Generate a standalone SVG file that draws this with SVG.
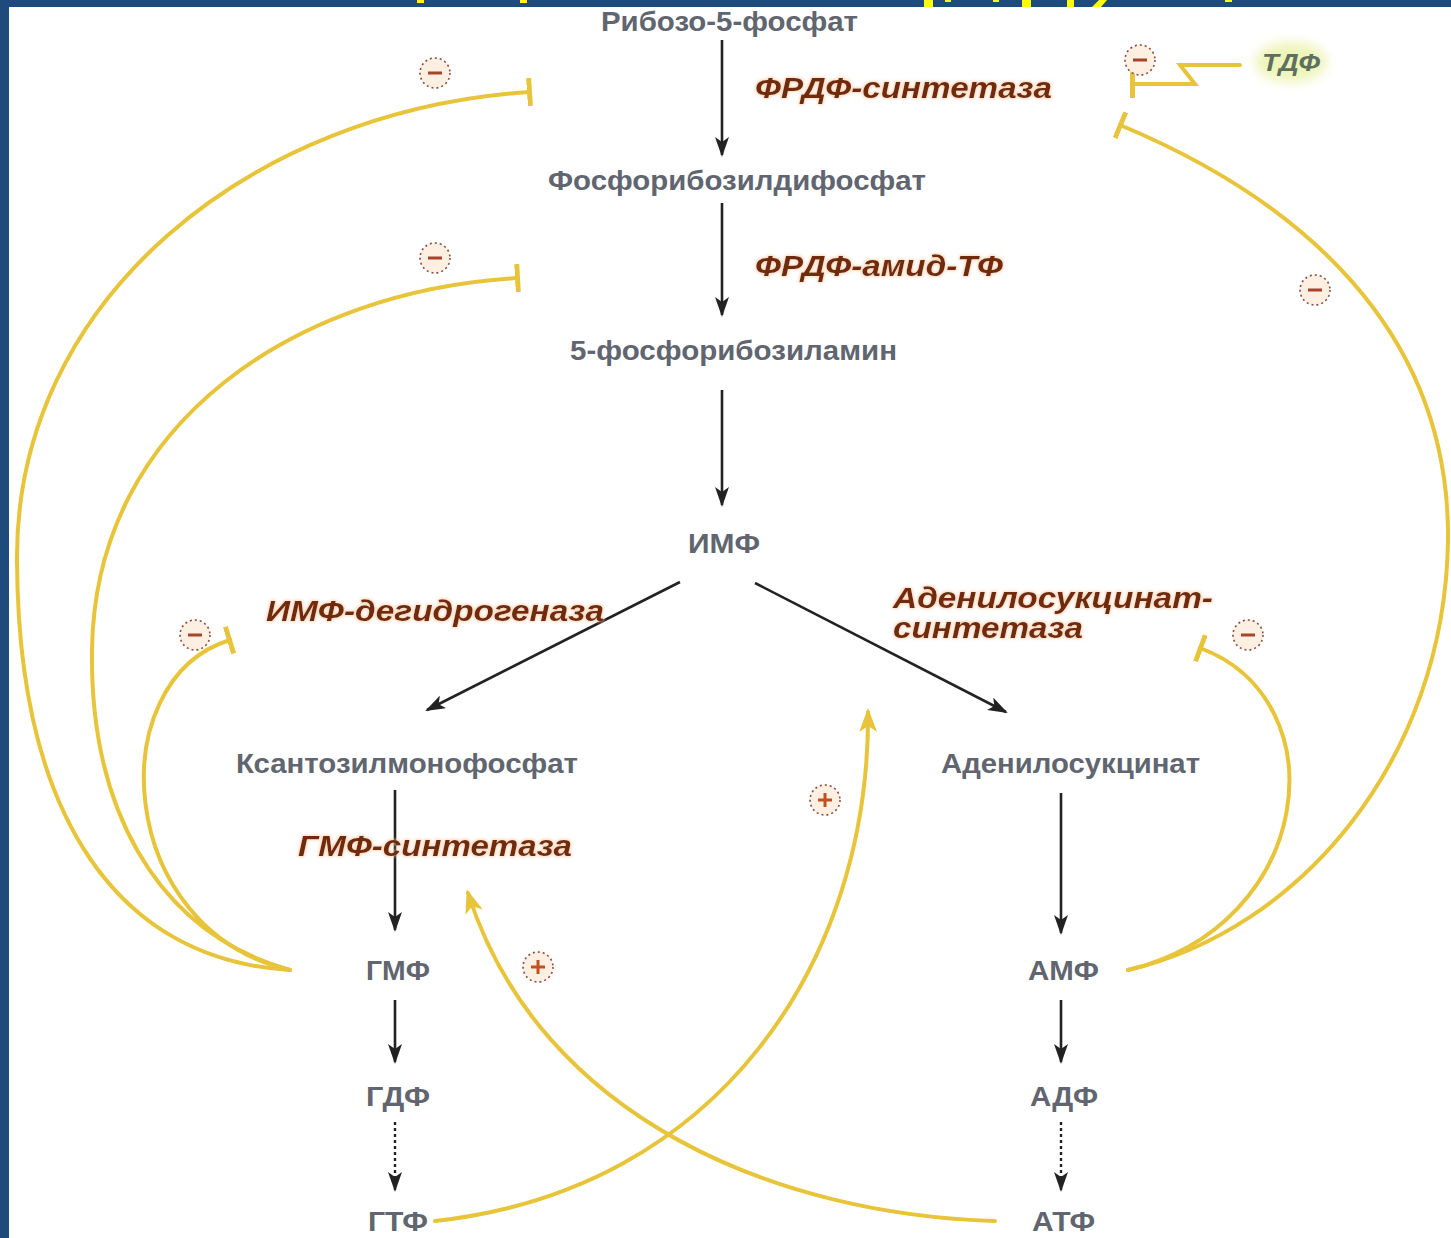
<svg xmlns="http://www.w3.org/2000/svg" xmlns:xlink="http://www.w3.org/1999/xlink" width="1451" height="1238" viewBox="0 0 1451 1238">
<defs>
<style>
.node{font-family:"Liberation Sans","DejaVu Sans",sans-serif;font-weight:bold;font-size:28px;fill:#60656f}
.enz{font-family:"Liberation Sans","DejaVu Sans",sans-serif;font-weight:bold;font-style:italic;font-size:30px;fill:#72290f;filter:url(#glow)}
.tdf{font-family:"Liberation Sans","DejaVu Sans",sans-serif;font-weight:bold;font-style:italic;font-size:24px;fill:#5f6f5f}
.blk{fill:none;stroke:#222;stroke-width:2.6;marker-end:url(#ah)}
.dot{fill:none;stroke:#222;stroke-width:2.4;stroke-dasharray:3 3;marker-end:url(#ah)}
.yel{fill:none;stroke:#e8c43a;stroke-width:4;stroke-linecap:round}
.inh{marker-end:url(#tbar)}
.act{marker-end:url(#yah)}
.frag{fill:#ffff00}
</style>
<filter id="glow" x="-10%" y="-30%" width="120%" height="160%">
<feMorphology in="SourceAlpha" operator="dilate" radius="1" result="d"/>
<feGaussianBlur in="d" stdDeviation="1.5" result="b"/>
<feFlood flood-color="#f3c49c" flood-opacity="0.65"/>
<feComposite in2="b" operator="in" result="g"/>
<feMerge><feMergeNode in="g"/><feMergeNode in="SourceGraphic"/></feMerge>
</filter>
<filter id="soft" x="-50%" y="-50%" width="200%" height="200%">
<feGaussianBlur stdDeviation="6"/>
</filter>
<marker id="ah" viewBox="0 0 20 14" refX="18" refY="7" markerWidth="20" markerHeight="14" markerUnits="userSpaceOnUse" orient="auto">
<path d="M0,0 L20,7 L0,14 L5,7 Z" fill="#222"/>
</marker>
<marker id="yah" viewBox="0 0 24 18" refX="20" refY="9" markerWidth="24" markerHeight="18" markerUnits="userSpaceOnUse" orient="auto">
<path d="M0,0 L24,9 L0,18 L6,9 Z" fill="#e8c43a"/>
</marker>
<marker id="tbar" viewBox="0 0 6 28" refX="3" refY="14" markerWidth="6" markerHeight="28" markerUnits="userSpaceOnUse" orient="auto">
<rect x="0" y="0" width="5" height="28" fill="#e8c43a"/>
</marker>
<g id="minus">
<circle r="15" fill="#fdf0e2" stroke="#8a4a3a" stroke-width="1.6" stroke-dasharray="2 3"/>
<rect x="-7" y="-1.5" width="14" height="3" fill="#a8442a"/>
</g>
<g id="plus">
<circle r="15" fill="#fdf0e2" stroke="#8a4a3a" stroke-width="1.6" stroke-dasharray="2 3"/>
<rect x="-7" y="-1.5" width="14" height="3" fill="#c0501e"/>
<rect x="-1.5" y="-7" width="3" height="14" fill="#c0501e"/>
</g>
</defs>
<rect width="1451" height="1238" fill="#ffffff"/>
<rect x="0" y="0" width="1451" height="7" fill="#1f4a7c"/>
<rect x="0" y="0" width="9" height="1238" fill="#1f4a7c"/>
<g id="title-fragments">
<rect class="frag" x="417" y="0" width="7" height="3"/>
<rect class="frag" x="520" y="0" width="7" height="3"/>
<rect class="frag" x="924" y="0" width="9" height="7"/>
<rect class="frag" x="945" y="0" width="6" height="2"/>
<rect class="frag" x="993" y="0" width="6" height="2"/>
<rect class="frag" x="1022" y="0" width="9" height="7"/>
<rect class="frag" x="1067" y="0" width="7" height="7"/>
<path class="frag" d="M1099,0 L1107,0 L1101,7 L1092,7 Z"/>
<rect class="frag" x="1225" y="0" width="7" height="2"/>
</g>

<g id="connectors">
<path class="blk" d="M722,40 L722,155"/>
<path class="blk" d="M722,203 L722,315"/>
<path class="blk" d="M722,390 L722,505"/>
<path class="blk" d="M680,582 L427,710"/>
<path class="blk" d="M755,583 L1006,712"/>
<path class="blk" d="M395,790 L395,930"/>
<path class="blk" d="M1061,793 L1061,933"/>
<path class="blk" d="M395,1000 L395,1062"/>
<path class="blk" d="M1061,1000 L1061,1062"/>
<path class="dot" d="M395,1122 L395,1190"/>
<path class="dot" d="M1061,1122 L1061,1190"/>

<path class="yel inh" d="M290,970 C120,960 18,820 17,560 C15,300 250,110 530,92"/>
<path class="yel inh" d="M290,970 C150,930 90,800 92,650 C95,420 300,290 518,278"/>
<path class="yel inh" d="M290,970 C115,930 100,680 230,640"/>
<path class="yel inh" d="M1128,970 C1300,930 1445,760 1448,540 C1450,330 1300,200 1120,125"/>
<path class="yel inh" d="M1128,970 C1315,925 1340,700 1200,648"/>
<path class="yel inh" d="M1240,65 L1180,65 L1195,84 L1132,84"/>
<path class="yel act" d="M435,1221 C720,1190 870,960 868,712"/>
<path class="yel act" d="M995,1221 C780,1215 540,1120 468,893"/>
</g>

<g id="signs">
<use xlink:href="#minus" x="435" y="73"/>
<use xlink:href="#minus" x="435" y="258"/>
<use xlink:href="#minus" x="195" y="635"/>
<use xlink:href="#minus" x="1140" y="60"/>
<use xlink:href="#minus" x="1315" y="290"/>
<use xlink:href="#minus" x="1248" y="635"/>
<use xlink:href="#plus" x="825" y="800"/>
<use xlink:href="#plus" x="538" y="967"/>
</g>

<g id="n-ribose"><text class="node" x="601" y="31" textLength="257" lengthAdjust="spacingAndGlyphs">Рибозо-5-фосфат</text></g>
<g id="n-prpp"><text class="node" x="548" y="190" textLength="378" lengthAdjust="spacingAndGlyphs">Фосфорибозилдифосфат</text></g>
<g id="n-pra"><text class="node" x="570" y="360" textLength="327" lengthAdjust="spacingAndGlyphs">5-фосфорибозиламин</text></g>
<g id="n-imp"><text class="node" x="688" y="553" textLength="72" lengthAdjust="spacingAndGlyphs">ИМФ</text></g>
<g id="n-xmp"><text class="node" x="236" y="773" textLength="342" lengthAdjust="spacingAndGlyphs">Ксантозилмонофосфат</text></g>
<g id="n-ads"><text class="node" x="941" y="773" textLength="259" lengthAdjust="spacingAndGlyphs">Аденилосукцинат</text></g>
<g id="n-gmp"><text class="node" x="366" y="980" textLength="64" lengthAdjust="spacingAndGlyphs">ГМФ</text></g>
<g id="n-gdp"><text class="node" x="366" y="1106" textLength="64" lengthAdjust="spacingAndGlyphs">ГДФ</text></g>
<g id="n-gtp"><text class="node" x="368" y="1231" textLength="60" lengthAdjust="spacingAndGlyphs">ГТФ</text></g>
<g id="n-amp"><text class="node" x="1028" y="980" textLength="71" lengthAdjust="spacingAndGlyphs">АМФ</text></g>
<g id="n-adp"><text class="node" x="1030" y="1106" textLength="68" lengthAdjust="spacingAndGlyphs">АДФ</text></g>
<g id="n-atp"><text class="node" x="1032" y="1231" textLength="63" lengthAdjust="spacingAndGlyphs">АТФ</text></g>

<g id="e-prpps"><text class="enz" x="755" y="98" textLength="297" lengthAdjust="spacingAndGlyphs">ФРДФ-синтетаза</text></g>
<g id="e-amidotf"><text class="enz" x="755" y="276" textLength="248" lengthAdjust="spacingAndGlyphs">ФРДФ-амид-ТФ</text></g>
<g id="e-impdh"><text class="enz" x="266" y="621" textLength="338" lengthAdjust="spacingAndGlyphs">ИМФ-дегидрогеназа</text></g>
<g id="e-adss"><text class="enz" x="893" y="608" textLength="320" lengthAdjust="spacingAndGlyphs">Аденилосукцинат-</text><text class="enz" x="893" y="638" textLength="190" lengthAdjust="spacingAndGlyphs">синтетаза</text></g>
<g id="e-gmps"><text class="enz" x="298" y="856" textLength="274" lengthAdjust="spacingAndGlyphs">ГМФ-синтетаза</text></g>
<g id="n-tdp"><ellipse cx="1291" cy="62" rx="36" ry="20" fill="#eef4b8" filter="url(#soft)"/><text class="tdf" x="1262" y="71" textLength="58" lengthAdjust="spacingAndGlyphs">ТДФ</text></g>
</svg>
